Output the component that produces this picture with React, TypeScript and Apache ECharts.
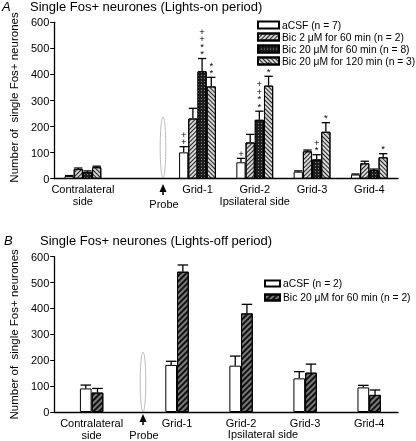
import React, { useEffect, useRef } from 'react';
import * as echarts from 'echarts';

// ---------- Panel A data (Lights-on period) ----------
const groupsA = ['Contralateral\nside', 'Grid-1', 'Grid-2\nIpsilateral side', 'Grid-3', 'Grid-4'];
const namesA = [
  'aCSF (n = 7)',
  'Bic 2 μM for 60 min (n = 2)',
  'Bic 20 μM for 60 min (n = 8)',
  'Bic 20 μM for 120 min (n = 3)',
];
const aCSF_A = [10, 101, 63, 27, 16];
const bic2_60_A = [37, 231, 139, 105, 59];
const bic20_60_A = [26, 412, 226, 74, 33];
const bic20_120_A = [44, 354, 357, 180, 82];
const aCSF_A_err = [2, 22, 15, 3, 2];
const bic2_60_A_err = [4, 39, 31, 5, 8];
const bic20_60_A_err = [4, 49, 33, 18, 4];
const bic20_120_A_err = [4, 35, 36, 35, 14];
const aCSF_A_sig = ['', '++', '+', '', ''];
const bic2_60_A_sig = ['', '', '', '', ''];
const bic20_60_A_sig = ['', '++**', '++**', '+*', ''];
const bic20_120_A_sig = ['', '**', '**', '*', '*'];

// ---------- Panel B data (Lights-off period) ----------
const groupsB = ['Contralateral\nside', 'Grid-1', 'Grid-2', 'Grid-3', 'Grid-4'];
const namesB = ['aCSF (n = 2)', 'Bic 20 μM for 60 min (n = 2)'];
const aCSF_B = [91, 182, 179, 130, 95];
const bic20_60_B = [75, 542, 381, 152, 66];
const aCSF_B_err = [13, 14, 37, 26, 8];
const bic20_60_B_err = [16, 26, 35, 33, 19];

const yTicks = [0, 100, 200, 300, 400, 500, 600];

// layout (slot positions of the groups along each x axis)
const posA = [0.5, 2.5, 3.5, 4.5, 5.5];
const posB = [1.75, 5.75, 8.75, 11.75, 14.75];

const FONT = 'Liberation Sans, Arial, sans-serif';

const styleWhite = { color: '#ffffff', borderColor: '#000', borderWidth: 1 };
const styleFwd = {
  color: '#d8d8d8',
  borderColor: '#000',
  borderWidth: 1,
  decal: { symbol: 'rect', color: '#222', dashArrayX: [1, 0], dashArrayY: [1, 1.5], rotation: -Math.PI / 4 },
};
const styleDark = {
  color: '#1c1c1c',
  borderColor: '#000',
  borderWidth: 1,
  decal: { symbol: 'rect', color: '#8a8a8a', dashArrayX: [1, 1.2], dashArrayY: [1, 1.2], rotation: 0 },
};
const styleBack = {
  color: '#d8d8d8',
  borderColor: '#000',
  borderWidth: 1,
  decal: { symbol: 'rect', color: '#222', dashArrayX: [1, 0], dashArrayY: [1, 1.5], rotation: Math.PI / 4 },
};
const styleFwdDense = {
  color: '#7a7a7a',
  borderColor: '#000',
  borderWidth: 1,
  decal: { symbol: 'rect', color: '#111', dashArrayX: [1, 0], dashArrayY: [1.1, 1.1], rotation: -Math.PI / 4 },
};

function barSeries(name: string, pos: number[], vals: number[], style: any, bw: number, ax: number) {
  return {
    type: 'bar',
    name,
    xAxisIndex: ax,
    yAxisIndex: ax,
    barWidth: bw,
    barGap: '0%',
    itemStyle: style,
    data: pos.map((p, i) => [p, vals[i]]),
  };
}

function errSeries(
  pos: number[], vals: number[], errs: number[], sig: string[],
  idx: number, n: number, bw: number, ax: number
) {
  return {
    type: 'custom',
    xAxisIndex: ax,
    yAxisIndex: ax,
    silent: true,
    z: 10,
    encode: { x: 0, y: 1 },
    data: pos.map((p, i) => [p, vals[i], errs[i], i]),
    renderItem: (params: any, api: any) => {
      const x = api.value(0);
      const v = api.value(1);
      const e = api.value(2);
      const k = api.value(3);
      const base = api.coord([x, v]);
      const top = api.coord([x, v + e]);
      const cx = base[0] + (idx - (n - 1) / 2) * bw;
      const half = bw * 0.45;
      const children: any[] = [
        { type: 'line', shape: { x1: cx, y1: base[1], x2: cx, y2: top[1] }, style: { stroke: '#000', lineWidth: 1.3 } },
        { type: 'line', shape: { x1: cx - half, y1: top[1], x2: cx + half, y2: top[1] }, style: { stroke: '#000', lineWidth: 1.3 } },
      ];
      const s = sig[k];
      if (s) {
        children.push({
          type: 'text',
          x: cx,
          y: top[1] - 1,
          style: {
            text: s.split('').join('\n'),
            align: 'center',
            verticalAlign: 'bottom',
            fontSize: 9.5,
            lineHeight: 7.5,
            fontFamily: FONT,
            fill: '#000',
          },
        });
      }
      return { type: 'group', children };
    },
  };
}

function labelFor(pos: number[], groups: string[]) {
  return (v: number) => {
    const i = pos.findIndex((p) => Math.abs(p - v) < 1e-6);
    return i >= 0 ? groups[i] : '';
  };
}

export default function App() {
  const ref = useRef<HTMLDivElement>(null);
  useEffect(() => {
    if (!ref.current) return;
    const chart = echarts.init(ref.current, undefined, { renderer: 'svg' });
    const bwA = 9.2;
    const bwB = 11.7;
    const stylesA = [styleWhite, styleFwd, styleDark, styleBack];
    const valsA = [aCSF_A, bic2_60_A, bic20_60_A, bic20_120_A];
    const errsA = [aCSF_A_err, bic2_60_A_err, bic20_60_A_err, bic20_120_A_err];
    const sigA = [aCSF_A_sig, bic2_60_A_sig, bic20_60_A_sig, bic20_120_A_sig];
    const stylesB = [styleWhite, styleFwdDense];
    const valsB = [aCSF_B, bic20_60_B];
    const errsB = [aCSF_B_err, bic20_60_B_err];

    const series: any[] = [];
    namesA.forEach((nm, i) => series.push(barSeries(nm, posA, valsA[i], stylesA[i], bwA, 0)));
    namesA.forEach((nm, i) => series.push(errSeries(posA, valsA[i], errsA[i], sigA[i], i, 4, bwA, 0)));
    namesB.forEach((nm, i) => series.push(barSeries(nm, posB, valsB[i], stylesB[i], bwB, 1)));
    namesB.forEach((nm, i) => series.push(errSeries(posB, valsB[i], errsB[i], ['', '', '', '', ''], i, 2, bwB, 1)));

    const xAxisCommon = (pos: number[], groups: string[], max: number, gi: number, margin: number) => ({
      type: 'value',
      gridIndex: gi,
      min: 0,
      max,
      axisLine: { show: true, lineStyle: { color: '#000', width: 1.3 } },
      axisTick: { show: false },
      splitLine: { show: false },
      axisLabel: {
        customValues: pos,
        formatter: labelFor(pos, groups),
        color: '#000',
        fontSize: 11,
        lineHeight: 12,
        fontFamily: FONT,
        margin,
      },
    });
    const yAxisCommon = (gi: number, gap: number, fs: number, pad: number[]) => ({
      type: 'value',
      gridIndex: gi,
      min: yTicks[0],
      max: yTicks[yTicks.length - 1],
      interval: 100,
      name: 'Number of  single Fos+ neurones',
      nameLocation: 'middle',
      nameGap: gap,
      nameTextStyle: { color: '#000', fontSize: fs, fontFamily: FONT, padding: pad },
      axisLine: { show: true, lineStyle: { color: '#000', width: 1.3 } },
      axisTick: { show: true, length: 4, lineStyle: { color: '#000' } },
      splitLine: { show: false },
      axisLabel: { color: '#000', fontSize: 11, fontFamily: FONT, margin: 5 },
    });

    const probe = (cx: number, cy: number, ry: number, ay: number, py: number) => [
      { type: 'ellipse', shape: { cx, cy, rx: 2.8, ry }, style: { fill: 'none', stroke: '#bbb', lineWidth: 1 } },
      { type: 'polygon', shape: { points: [[cx, ay], [cx - 3.5, ay + 8], [cx + 3.5, ay + 8]] }, style: { fill: '#000' } },
      { type: 'line', shape: { x1: cx, y1: ay + 6, x2: cx, y2: ay + 11 }, style: { stroke: '#000', lineWidth: 1.5 } },
      { type: 'text', x: cx + 1, y: py, style: { text: 'Probe', align: 'center', verticalAlign: 'middle', fontSize: 11, fontFamily: FONT, fill: '#000' } },
    ];

    chart.setOption({
      animation: false,
      textStyle: { fontFamily: FONT },
      grid: [
        { left: 45, top: 22.3, width: 353, height: 156.4 },
        { left: 39, top: 256.7, width: 359, height: 155.3 },
      ],
      xAxis: [xAxisCommon(posA, groupsA, 6, 0, 4), xAxisCommon(posB, groupsB, 16.1, 1, 5)],
      yAxis: [yAxisCommon(0, 34, 11.5, [0, 0, 0, 6]), yAxisCommon(1, 30, 11.5, [0, 0, 0, 0])],
      legend: [
        {
          data: namesA,
          orient: 'vertical',
          left: 252,
          top: 14,
          itemWidth: 21,
          itemHeight: 7,
          itemGap: 0,
          icon: 'rect',
          textStyle: { color: '#000', fontSize: 10.3, lineHeight: 12, fontFamily: FONT, padding: [0, 0, 0, -2] },
          selectedMode: false,
        },
        {
          data: namesB,
          orient: 'vertical',
          left: 259,
          top: 272,
          itemWidth: 15,
          itemHeight: 6,
          itemGap: 1,
          icon: 'rect',
          textStyle: { color: '#000', fontSize: 10.3, lineHeight: 13, fontFamily: FONT, padding: [0, 0, 0, -2] },
          selectedMode: false,
        },
      ],
      graphic: [
        { type: 'text', x: 2, y: 0, style: { text: 'A', fontSize: 13, fontStyle: 'italic', fontFamily: FONT, fill: '#000' } },
        { type: 'text', x: 30, y: 0, style: { text: 'Single Fos+ neurones (Lights-on period)', fontSize: 13, fontFamily: FONT, fill: '#000' } },
        { type: 'text', x: 4, y: 234, style: { text: 'B', fontSize: 13, fontStyle: 'italic', fontFamily: FONT, fill: '#000' } },
        { type: 'text', x: 40, y: 234, style: { text: 'Single Fos+ neurones (Lights-off period)', fontSize: 13, fontFamily: FONT, fill: '#000' } },
        ...probe(163, 147.5, 30.5, 184, 204),
        ...probe(143, 382, 30, 414, 434.5),
        { type: 'text', x: 263, y: 434, style: { text: 'Ipsilateral side', align: 'center', verticalAlign: 'middle', fontSize: 11, fontFamily: FONT, fill: '#000' } },
      ],
      series,
    });
    return () => chart.dispose();
  }, []);
  return <div ref={ref} style={{ position: 'fixed', left: 0, top: 0, width: 416, height: 441 }} />;
}
